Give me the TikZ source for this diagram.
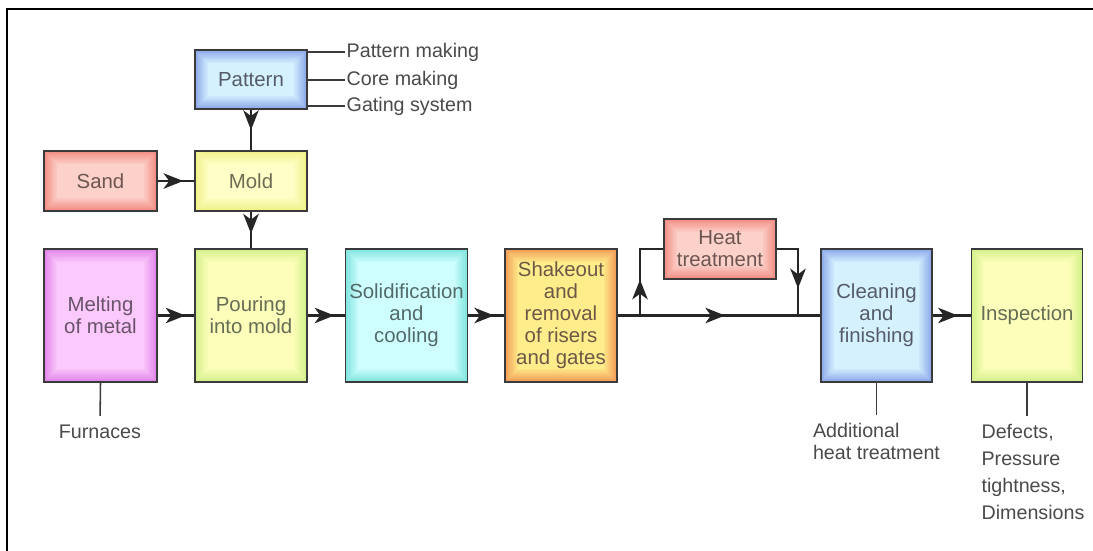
\documentclass[tikz,border=0pt]{standalone}
\usepackage{fontspec}
\setmainfont{Liberation Sans}
\usetikzlibrary{arrows.meta,decorations.markings}
\definecolor{frame}{HTML}{3A3A3C}
\definecolor{note}{HTML}{4A4A4A}
\definecolor{bluering}{HTML}{8CA8EA}
\definecolor{bluecore}{HTML}{D8F4FF}
\definecolor{redring}{HTML}{F28C82}
\definecolor{redcore}{HTML}{FCD4CC}
\definecolor{yelring}{HTML}{F0F08A}
\definecolor{yelcore}{HTML}{FFFFC8}
\definecolor{pinkring}{HTML}{E284EA}
\definecolor{pinkcore}{HTML}{FCCCFC}
\definecolor{greenring}{HTML}{D2F08A}
\definecolor{greencore}{HTML}{FFFFBC}
\definecolor{cyanring}{HTML}{80E4DE}
\definecolor{cyancore}{HTML}{D2FFFF}
\definecolor{orangering}{HTML}{F29C58}
\definecolor{orangecore}{HTML}{FFF08C}
% nested insets fading from the ring colour into the core colour
\newcommand\ringfade[1]{%
 \foreach \k in {1,...,16}{%
  \pgfmathtruncatemacro\mix{100-\k*6}%
  \fill[#1ring!\mix!#1core] ([shift={(\k*.6pt,-\k*.6pt)}]path picture bounding box.north west)
   rectangle ([shift={(-\k*.6pt,\k*.6pt)}]path picture bounding box.south east);}}
\tikzset{
 stage/.style={draw=frame,line width=1.3pt,fill=#1ring,align=center,inner sep=1pt,
  text=#1ring!30!black!80,font=\fontsize{14.5}{15.6}\selectfont,
  minimum width=2.8cm,minimum height=3.325cm,path picture={\ringfade{#1}}},
 midarrow/.style={postaction={decorate},decoration={markings,
  mark=at position #1 with {\arrow{Stealth[length=14pt,width=11pt,inset=4pt]}}}}
}

\begin{document}
\begin{tikzpicture}[x=.025cm,y=-.025cm,font=\fontsize{14}{15.5}\selectfont,
 small/.style={minimum height=1.5cm},
 notetext/.style={text=note,align=left,inner sep=1pt},
 lead/.style={draw=note!80!black,line width=1.1pt},
 flow/.style={draw=black!85,line width=1.6pt}]
\path[use as bounding box] (0,0) rectangle (1093,551);
\draw[line width=1.6pt] (7,551) -- (7,9) -- (1093,9);
% upper branch: pattern and sand feed the mold
\node[stage=blue,small,minimum height=1.475cm] (pattern) at (251,79.5) {Pattern};
\node[stage=yel,small] (mold) at (251,181) {Mold};
\node[stage=red,small,minimum width=2.825cm] (sand) at (100.5,181) {Sand};
% main line of stages
\node[stage=pink,minimum width=2.825cm] (melt) at (100.5,315.5) {Melting\\of metal};
\node[stage=green] (pour) at (251,315.5) {Pouring\\into mold};
\node[stage=cyan,minimum width=3.05cm] (solid) at (406.5,315.5) {Solidification\\and\\cooling};
\node[stage=orange] (shake) at (561,315.5) {Shakeout\\and\\removal\\of risers\\and gates};
\node[stage=red,small] (heat) at (720,249) {Heat\\treatment};
\node[stage=blue,minimum width=2.775cm] (clean) at (876.5,315.5) {Cleaning\\and\\finishing};
\node[stage=green,minimum width=2.775cm] (insp) at (1027,315.5) {Inspection};
% side notes
\node[notetext,anchor=west] (pmk) at (345,52) {Pattern making};
\node[notetext,anchor=west] (cmk) at (345,80) {Core making};
\node[notetext,anchor=west] (gts) at (345,106) {Gating system};
\foreach \n in {pmk,cmk,gts} \draw[lead] (pattern.east |- \n.west) -- (\n.west);
\node[notetext,anchor=north] (furn) at (100,423) {Furnaces};
\node[notetext,anchor=north] (addl) at (876.5,422) {Additional\\heat treatment};
\node[notetext,anchor=north,font=\fontsize{14}{19}\selectfont] (tests) at (1033,423)
 {Defects,\\Pressure\\tightness,\\Dimensions};
\draw[lead,shorten >=5pt] (melt.south) -- (furn.north);
\draw[lead,shorten >=5pt] (clean.south) -- (addl.north);
\draw[lead,shorten >=5pt] (insp.south) -- (insp.south |- tests.north);
% connectors
\draw[flow,midarrow=.5] (pattern) -- (mold);
\draw[flow,midarrow=.7] (sand) -- (mold);
\draw[flow,midarrow=.6] (mold) -- (pour);
\foreach \a/\b/\p in {melt/pour/.76,pour/solid/.72,solid/shake/.72,clean/insp/.66}
 \draw[flow,midarrow=\p] (\a) -- (\b);
\coordinate (split) at (640,315.5);
\coordinate (join) at (798,315.5);
\draw[flow,midarrow=.53] (shake) -- (clean);
\draw[flow,midarrow=.4] (split) |- (heat.west);
\draw[flow,midarrow=.69] (heat.east) -| (join);
\end{tikzpicture}
\end{document}
